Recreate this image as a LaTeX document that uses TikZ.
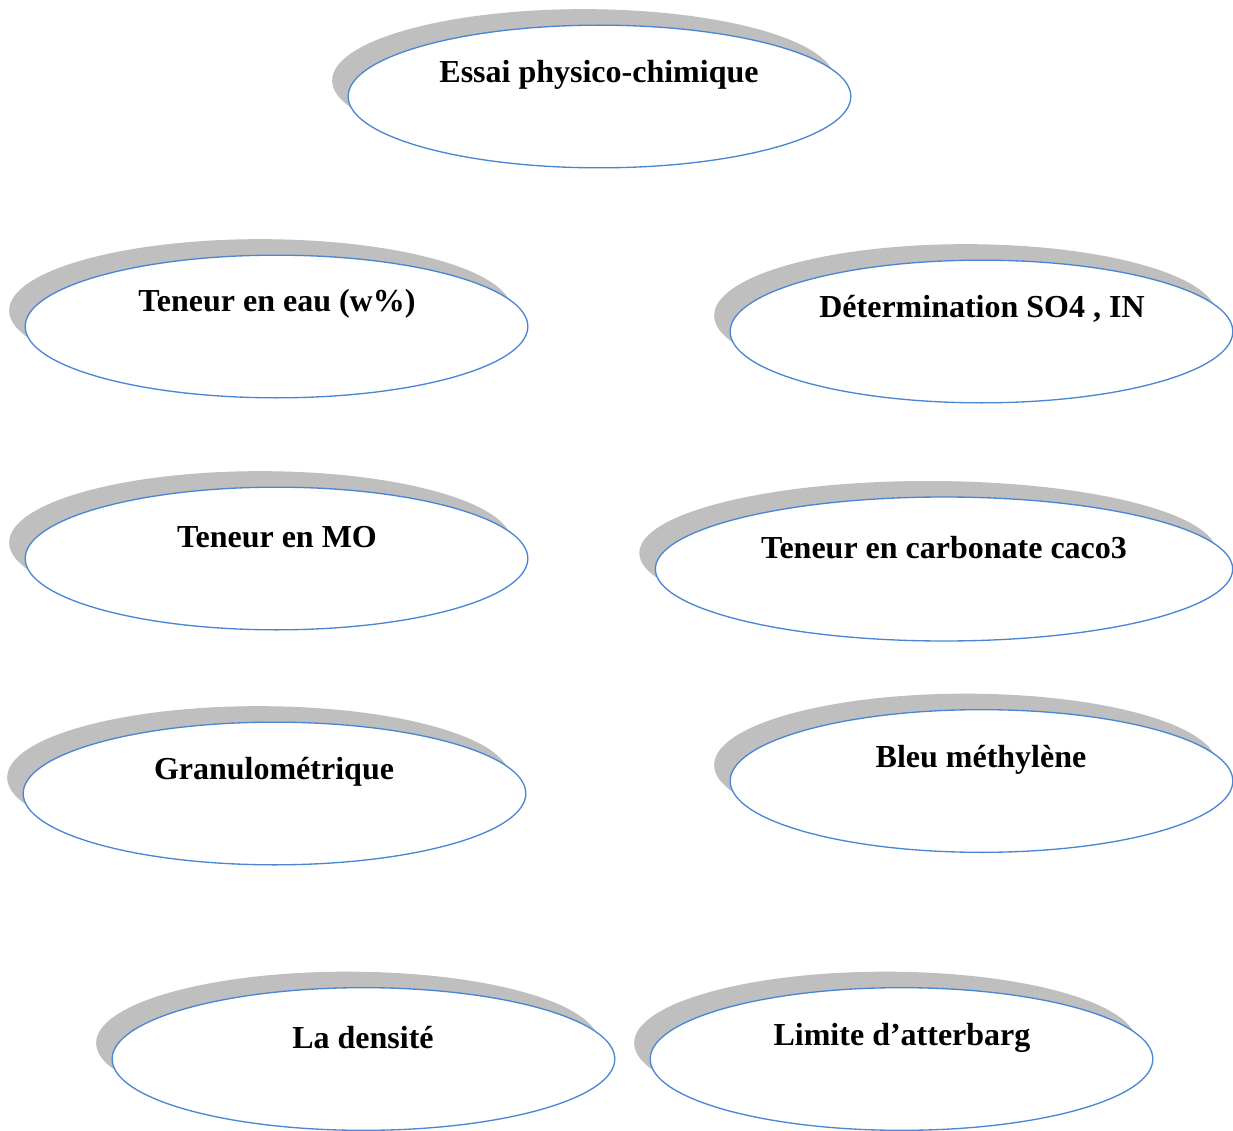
\documentclass[tikz,border=0pt]{standalone}
\usepackage{fontspec}
\setmainfont{Liberation Serif}
\usetikzlibrary{shapes.geometric,shadows}
\definecolor{bordbleu}{RGB}{74,134,214}
\definecolor{ombre}{RGB}{191,191,191}
\tikzset{
  bulle/.style={ellipse, draw=bordbleu, line width=1pt, fill=white,
    minimum width=377pt, minimum height=107pt, inner sep=0pt,
    drop shadow={shadow xshift=-12pt, shadow yshift=12pt, fill=ombre, opacity=1}},
  largebulle/.style={bulle, minimum width=433pt, minimum height=108pt},
  titre/.style={inner sep=0.75pt, font=\fontsize{24}{28}\selectfont\bfseries}
}
\begin{document}
\begin{tikzpicture}[x=0.75pt,y=0.75pt,yscale=-1]
	\useasboundingbox (0,0) rectangle (1233,1131);
	
	%Shape: Ellipse [id:essai]
	\draw (599.5,96.5) node [bulle] (essai) {};
	%Shape: Ellipse [id:eau]
	\draw (276.5,326.5) node [bulle] (eau) {};
	%Shape: Ellipse [id:so4]
	\draw (981.5,331.5) node [bulle] (so4) {};
	%Shape: Ellipse [id:mo]
	\draw (276.5,558.5) node [bulle] (mo) {};
	%Shape: Ellipse [id:caco]
	\draw (944,569) node [largebulle] (caco) {};
	%Shape: Ellipse [id:granulo]
	\draw (274.5,793.5) node [bulle] (granulo) {};
	%Shape: Ellipse [id:bleu]
	\draw (981.5,781) node [bulle] (bleu) {};
	%Shape: Ellipse [id:densite]
	\draw (363.5,1059) node [bulle] (densite) {};
	%Shape: Ellipse [id:atterbarg]
	\draw (901.5,1059) node [bulle] (atterbarg) {};
	
	% Text Node
	\draw (599,75) node [titre] (essai-t) {Essai physico-chimique};
	% Text Node
	\draw (277,304) node [titre] (eau-t) {Teneur en eau (w\%)};
	% Text Node
	\draw (982,309) node [titre] (so4-t) {Détermination SO4 , IN};
	% Text Node
	\draw (277,537) node [titre] (mo-t) {Teneur en MO};
	% Text Node
	\draw (944,548) node [titre] (caco-t) {Teneur en carbonate caco3};
	% Text Node
	\draw (274,772) node [titre] (granulo-t) {Granulométrique};
	% Text Node
	\draw (981,760) node [titre] (bleu-t) {Bleu méthylène};
	% Text Node
	\draw (363,1038) node [titre] (densite-t) {La densité};
	% Text Node
	\draw (902,1038) node [titre] (atterbarg-t) {Limite d’atterbarg};
\end{tikzpicture}
\end{document}
